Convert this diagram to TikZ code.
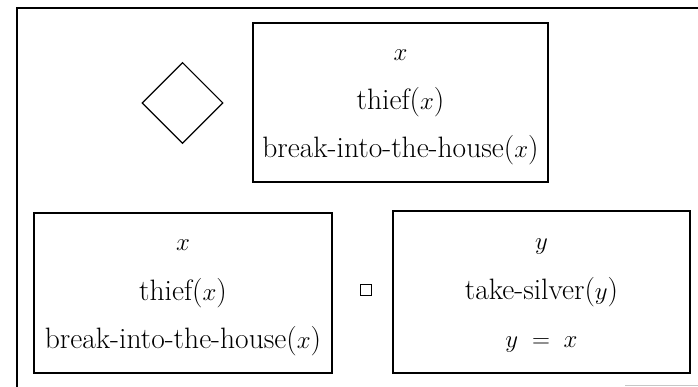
\documentclass[tikz,border=0pt]{standalone}
\usepackage{amsmath}
\usetikzlibrary{shapes.geometric}
\begin{document}
\begin{tikzpicture}[x=1pt,y=-1pt,
  frameline/.style={line width=1.4pt},
  drsbox/.style={draw,line width=1.3pt,inner sep=0pt,rectangle},
  condline/.style={anchor=base,inner sep=0pt,font=\fontsize{29.5}{35}\selectfont},
  possop/.style={draw,diamond,line width=1.1pt,inner sep=0pt,minimum width=81pt,minimum height=81pt},
  necop/.style={draw,rectangle,line width=0.9pt,inner sep=0pt,minimum width=11pt,minimum height=11pt}]
  \useasboundingbox (0,0) rectangle (698,387);

  % enclosing frame (only its left and top edges are drawn)
  \coordinate (fbl) at (17,387);
  \coordinate (ftl) at (17,8);
  \coordinate (ftr) at (698,8);
  \draw[frameline] (fbl) -- (ftl) -- (ftr);
  \coordinate (ga) at (625,385);
  \coordinate (gb) at (698,385);
  \draw[gray!45,line width=0.8pt] (ga) -- (gb);

  % possibility operator and its box
  \node[possop] (dia) at (182.5,103) {};
  \node[drsbox,minimum width=295pt,minimum height=159pt] (topbox) at (400.5,102.5) {};
  \node[condline] (t1) at (400.5,61) {$x$};
  \node[condline] (t2) at (400.5,110) {thief($x$)};
  \node[condline] (t3) at (400.5,158) {break-into-the-house($x$)};

  % antecedent box
  \node[drsbox,minimum width=298pt,minimum height=160pt] (ante) at (183,293) {};
  \node[condline] (a1) at (183,251) {$x$};
  \node[condline] (a2) at (183,300) {thief($x$)};
  \node[condline] (a3) at (183,348) {break-into-the-house($x$)};

  % necessity operator
  \node[necop] (nec) at (366,290) {};

  % consequent box
  \node[drsbox,minimum width=297pt,minimum height=162pt] (cons) at (541.5,292) {};
  \node[condline] (c1) at (541.5,250) {$y$};
  \node[condline] (c2) at (541.5,299) {take-silver($y$)};
  \node[condline] (c3) at (541.5,347) {$y\;=\;x$};
\end{tikzpicture}
\end{document}
